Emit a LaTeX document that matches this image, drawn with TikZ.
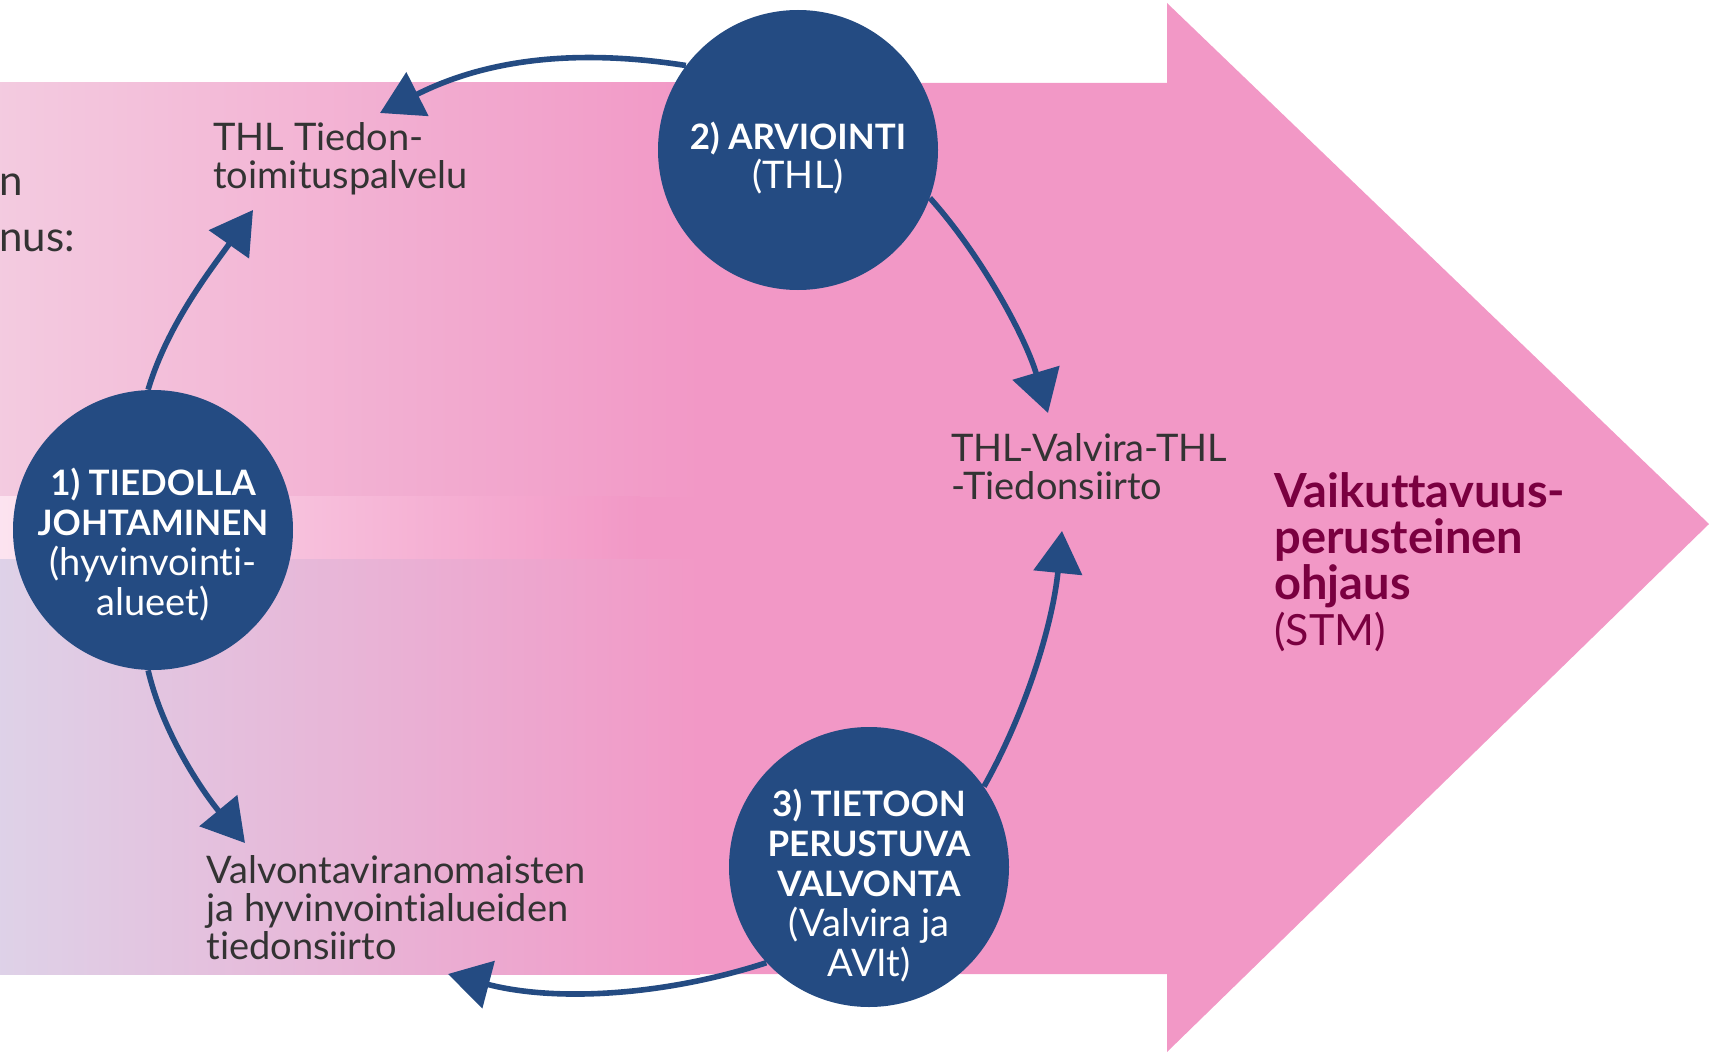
\documentclass[tikz,border=0pt]{standalone}
\usepackage{fontspec}
\setmainfont{Lato}[Ligatures=NoCommon]
\usetikzlibrary{arrows.meta}
\definecolor{navy}{HTML}{244B82}
\definecolor{arrowpink}{HTML}{F298C6}
\definecolor{toplight}{HTML}{F3CBE0}
\definecolor{bandlight}{HTML}{FCE4F0}
\definecolor{botlight}{HTML}{DED2E8}
\definecolor{darktext}{HTML}{333333}
\definecolor{maroon}{HTML}{7A0040}
\newcommand{\stagehead}[1]{{\fontsize{17.5}{20}\selectfont\bfseries #1}}
\newcommand{\goalhead}[1]{{\fontsize{23.5}{23}\selectfont\bfseries #1}}
\begin{document}
\begin{tikzpicture}[x=0.5pt, y=-0.5pt,
    stage/.style={circle, fill=navy, minimum size=140pt, inner sep=0pt},
    stagetext/.style={text=white, align=center, anchor=base, inner sep=0pt,
      font=\fontsize{19}{20}\selectfont},
    info/.style={text=darktext, align=left, anchor=base west, inner sep=0pt,
      font=\fontsize{19}{19}\selectfont},
    flow/.style={draw=navy, line width=2.8pt,
      -{Triangle[length=21pt, width=24pt]}},
  ]
  \useasboundingbox (0,0) rectangle (1709,1054);
  % the big arrow
  \fill[arrowpink] (-5,83) -- (1167,83) -- (1167,3) -- (1709,524)
    -- (1167,1052) -- (1167,974) -- (-5,974) -- cycle;
  \shade[left color=toplight, right color=arrowpink] (-5,83) rectangle (700,496);
  \shade[left color=bandlight, right color=arrowpink] (-5,496) rectangle (640,559);
  \shade[left color=botlight, right color=arrowpink] (-5,559) rectangle (700,974);

  % texts (anchored at the last line)
  \node[text=darktext, align=left, anchor=base west, inner sep=0pt,
    font=\fontsize{21}{28}\selectfont] (leftcol) at (-1,251) {n\\nus:};
  \node[info] (tiedon) at (213,189) {THL Tiedon-\\toimituspalvelu};
  \node[info] (valvira) at (951,499) {THL-Valvira-THL\\-Tiedonsiirto};
  \node[info] (valvonta) at (206,959)
    {Valvontaviranomaisten\\ja hyvinvointialueiden\\tiedonsiirto};
  \node[text=maroon, align=left, anchor=base west, inner sep=0pt,
    font=\fontsize{21.5}{23}\selectfont] (ohjaus) at (1274,645)
    {\goalhead{Vaikuttavuus-}\\\goalhead{perusteinen}\\\goalhead{ohjaus}\\(STM)};

  % the three stages
  \node[stage] (c1) at (153,530) {};
  \node[stage] (c2) at (798,150) {};
  \node[stage] (c3) at (869,867) {};
  \node[stagetext] (c1text) at (153,615)
    {\stagehead{1) TIEDOLLA}\\\stagehead{JOHTAMINEN}\\(hyvinvointi-\\alueet)};
  \node[stagetext] (c2text) at (798,189) {\stagehead{2) ARVIOINTI}\\(THL)};
  \node[stagetext] (c3text) at (869,976)
    {\stagehead{3) TIETOON}\\\stagehead{PERUSTUVA}\\\stagehead{VALVONTA}\\(Valvira ja\\AVIt)};

  % flows
  \draw[flow] (c2.143) .. controls (574,48) and (485,60)
    .. ([shift={(167,-76)}]tiedon.base west);
  \draw[flow] (c1.92) .. controls (168,323) and (213,267)
    .. ([shift={(40,21)}]tiedon.base west);
  \draw[flow] (c1.268) .. controls (163,734) and (203,792)
    .. ([shift={(39,-116)}]valvonta.base west);
  \draw[flow] (c3.223) .. controls (664,996) and (555,1002)
    .. ([shift={(242,15)}]valvonta.base west);
  \draw[flow] (c3.35) .. controls (1028,708) and (1053,621)
    .. ([shift={(111,32)}]valvira.base west);
  \draw[flow] (c2.-20) .. controls (981,255) and (1025,336)
    .. ([shift={(97,-86)}]valvira.base west);
\end{tikzpicture}
\end{document}
